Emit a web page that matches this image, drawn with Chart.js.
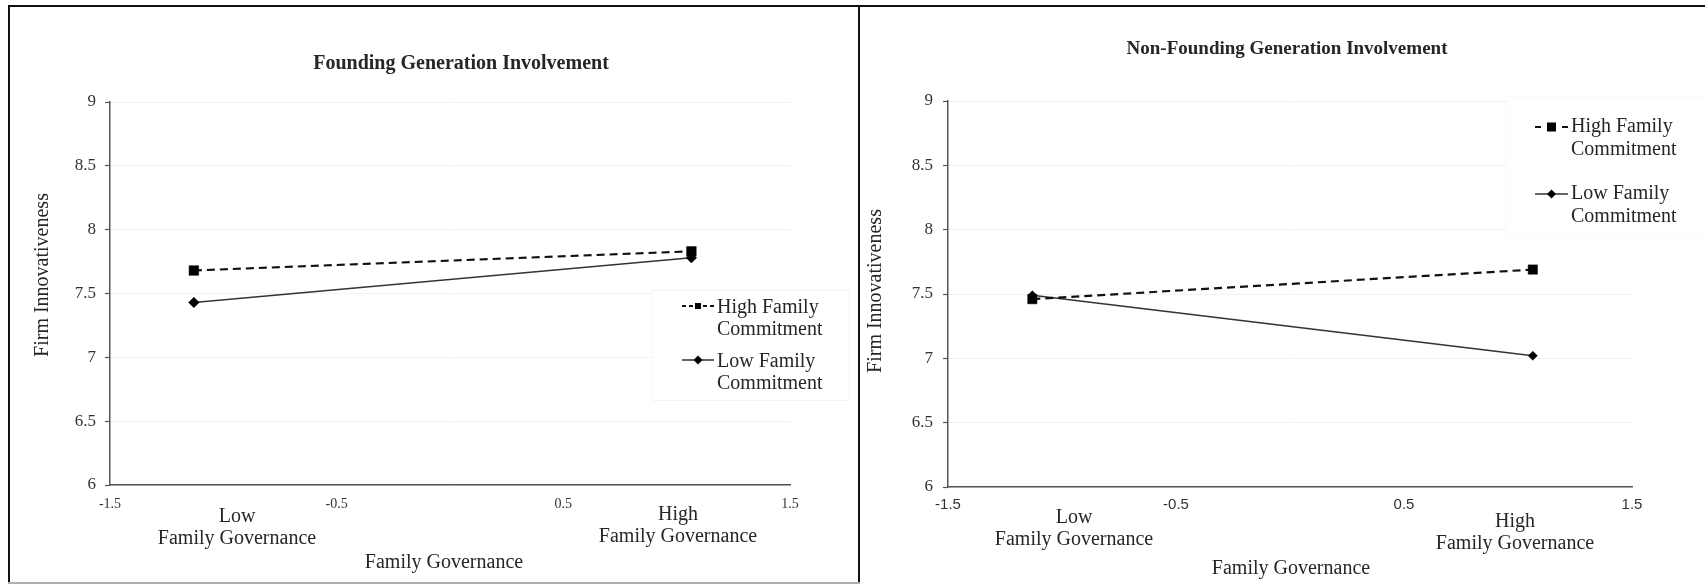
<!DOCTYPE html>
<html>
<head>
<meta charset="utf-8">
<title>Family Governance and Firm Innovativeness</title>
<script src="https://cdn.jsdelivr.net/npm/chart.js@4.4.1/dist/chart.umd.min.js"></script>
<style>
  html, body { margin: 0; padding: 0; background: #fff; }
  #stage { position: relative; width: 1705px; height: 584px; overflow: hidden; }
  #stage canvas { position: absolute; left: 0; top: 0; }
  .rule { position: absolute; }
</style>
</head>
<body>
<div id="stage">
  <div class="rule" style="left:8px;top:5px;width:1697px;height:2px;background:#111"></div>
  <div class="rule" style="left:8px;top:5px;width:2px;height:579px;background:#111"></div>
  <div class="rule" style="left:858px;top:5px;width:2px;height:579px;background:#111"></div>
  <div class="rule" style="left:8px;top:582px;width:852px;height:2px;background:#b0b0b0"></div>
  <canvas id="founding" width="1705" height="584"></canvas>
  <canvas id="nonFounding" width="1705" height="584"></canvas>
</div>
<script>
const SERIF = "'Liberation Serif', 'Times New Roman', serif";
const SANS = "'Liberation Sans', Arial, sans-serif";

// Shared axes
const governanceX = [-1.13, 1.065];          // low / high family governance
const xTickValues = [-1.5, -0.5, 0.5, 1.5];
const yMin = 6;
const yMax = 9;
const yStep = 0.5;

// Labels
const seriesNames = [['High Family', 'Commitment'], ['Low Family', 'Commitment']];
const categoryLines = [['Low', 'Family Governance'], ['High', 'Family Governance']];
const axisTitleX = 'Family Governance';
const axisTitleY = 'Firm Innovativeness';

// Simple slopes: firm innovativeness
const foundingHighCommitment = [7.68, 7.83];
const foundingLowCommitment = [7.43, 7.78];
const nonFoundingHighCommitment = [7.46, 7.69];
const nonFoundingLowCommitment = [7.49, 7.02];

const TEXT = '#262626';
const AXIS = '#555';

function drawMarker(ctx, style, x, y, size) {
  ctx.beginPath();
  if (style === 'rect') {
    ctx.rect(x - size / 2, y - size / 2, size, size);
  } else {
    ctx.moveTo(x - size, y);
    ctx.lineTo(x, y - size);
    ctx.lineTo(x + size, y);
    ctx.lineTo(x, y + size);
    ctx.closePath();
  }
  ctx.fill();
}

function panelPlugin(spec) {
  return {
    id: 'panelText',
    beforeDatasetsDraw(chart) {
      const b = spec.legend.box;
      const ctx = chart.ctx;
      ctx.save();
      ctx.fillStyle = '#fff';
      ctx.fillRect(b.x, b.y, b.w, b.h);
      ctx.strokeStyle = b.stroke;
      ctx.lineWidth = 1;
      ctx.strokeRect(b.x + 0.5, b.y + 0.5, b.w, b.h);
      ctx.restore();
    },
    afterDraw(chart) {
      const ctx = chart.ctx;
      ctx.save();
      ctx.fillStyle = TEXT;
      ctx.textAlign = 'center';
      ctx.textBaseline = 'middle';

      // panel title
      ctx.font = 'bold ' + spec.titleSize + 'px ' + SERIF;
      ctx.fillText(spec.title, spec.titleAt[0], spec.titleAt[1]);

      // axis titles
      ctx.font = '20px ' + SERIF;
      ctx.fillText(axisTitleX, spec.xTitleAt[0], spec.xTitleAt[1]);
      ctx.save();
      ctx.translate(spec.yTitleAt[0], spec.yTitleAt[1]);
      ctx.rotate(-Math.PI / 2);
      ctx.fillText(axisTitleY, 0, 0);
      ctx.restore();

      // category captions under the axis
      categoryLines.forEach((lines, i) => {
        const [cx, cy] = spec.catAt[i];
        lines.forEach((line, j) => ctx.fillText(line, cx, cy + j * 22));
      });

      // legend
      const lg = spec.legend;
      chart.data.datasets.forEach((ds, i) => {
        const ry = lg.rows[i];
        const sy = ry + lg.sampleOffset;
        ctx.save();
        ctx.strokeStyle = ds.borderColor;
        ctx.lineWidth = i === 0 ? 2 : 1.5;
        ctx.setLineDash(i === 0 ? lg.dash : []);
        ctx.beginPath();
        ctx.moveTo(lg.sampleX[0], sy);
        ctx.lineTo(lg.sampleX[1], sy);
        ctx.stroke();
        ctx.fillStyle = '#000';
        const mx = (lg.sampleX[0] + lg.sampleX[1]) / 2;
        drawMarker(ctx, ds.pointStyle, mx, sy, ds.pointStyle === 'rect' ? lg.squareSide : lg.diamondR);
        ctx.restore();

        ctx.textAlign = 'left';
        ctx.font = '20px ' + SERIF;
        seriesNames[i].forEach((line, j) => ctx.fillText(line, lg.textX, ry + j * lg.lineGap));
      });
      ctx.restore();
    }
  };
}

function makeChart(canvasId, spec) {
  const points = vals => governanceX.map((x, i) => ({ x: x, y: vals[i] }));
  return new Chart(document.getElementById(canvasId), {
    type: 'line',
    data: {
      datasets: [
        {
          label: seriesNames[0].join(' '),
          data: points(spec.high),
          borderColor: '#111',
          borderWidth: 2.2,
          borderDash: [8, 5],
          pointStyle: 'rect',
          pointRadius: spec.squareR,
          pointBackgroundColor: '#000',
          pointBorderColor: '#000',
          pointBorderWidth: 0.5,
          fill: false,
          tension: 0
        },
        {
          label: seriesNames[1].join(' '),
          data: points(spec.low),
          borderColor: '#333',
          borderWidth: 1.6,
          pointStyle: 'rectRot',
          pointRadius: spec.diamondR,
          pointBackgroundColor: '#000',
          pointBorderColor: '#000',
          pointBorderWidth: 0.5,
          fill: false,
          tension: 0
        }
      ]
    },
    options: {
      responsive: false,
      devicePixelRatio: 1,
      animation: false,
      events: [],
      layout: { padding: spec.padding },
      plugins: { legend: { display: false }, tooltip: { enabled: false }, title: { display: false } },
      scales: {
        x: {
          type: 'linear',
          min: xTickValues[0],
          max: xTickValues[xTickValues.length - 1],
          afterBuildTicks: s => { s.ticks = xTickValues.map(v => ({ value: v })); },
          afterFit: s => { s.height = spec.xHeight; },
          grid: { display: false, drawTicks: false, tickLength: 0 },
          border: { display: true, color: AXIS, width: 1.5 },
          ticks: {
            color: '#333',
            font: spec.xTickFont,
            padding: spec.xTickPad,
            maxRotation: 0,
            autoSkip: false,
            callback: v => String(v)
          }
        },
        y: {
          type: 'linear',
          min: yMin,
          max: yMax,
          afterFit: s => { s.width = spec.yWidth; },
          grid: { display: true, color: '#f1f1f1', lineWidth: 1, drawTicks: true, tickLength: 5, tickColor: AXIS, tickWidth: 1.2 },
          border: { display: true, color: AXIS, width: 1.5 },
          ticks: {
            stepSize: yStep,
            color: '#333',
            font: { family: SERIF, size: 17 },
            padding: spec.yTickPad,
            callback: v => String(v)
          }
        }
      }
    },
    plugins: [panelPlugin(spec)]
  });
}

makeChart('founding', {
  title: 'Founding Generation Involvement',
  titleSize: 20,
  titleAt: [461, 64],
  padding: { left: 0, top: 102, right: 915, bottom: 0 },
  yWidth: 110,
  xHeight: 99,
  yTitleAt: [43, 275],
  xTitleAt: [444, 563],
  catAt: [[237, 517], [678, 515]],
  xTickFont: { family: SERIF, size: 14 },
  xTickPad: 11,
  yTickPad: 9,
  high: foundingHighCommitment,
  low: foundingLowCommitment,
  squareR: 6.8,
  diamondR: 5.3,
  legend: {
    sampleX: [682, 714], textX: 717, rows: [308, 362], lineGap: 22, sampleOffset: -2,
    dash: [4, 3], squareSide: 6, diamondR: 4.5,
    box: { x: 652, y: 290, w: 197, h: 110, stroke: '#f5f5f5' }
  }
});

makeChart('nonFounding', {
  title: 'Non-Founding Generation Involvement',
  titleSize: 19,
  titleAt: [1287, 49],
  padding: { left: 861, top: 101, right: 73, bottom: 0 },
  yWidth: 87,
  xHeight: 97,
  yTitleAt: [876, 291],
  xTitleAt: [1291, 569],
  catAt: [[1074, 518], [1515, 522]],
  xTickFont: { family: SANS, size: 15 },
  xTickPad: 9,
  yTickPad: 10,
  high: nonFoundingHighCommitment,
  low: nonFoundingLowCommitment,
  squareR: 6.6,
  diamondR: 4.6,
  legend: {
    sampleX: [1535, 1568], textX: 1571, rows: [127, 194], lineGap: 23, sampleOffset: 0,
    dash: [6, 21], squareSide: 9, diamondR: 4.5,
    box: { x: 1506, y: 96, w: 199, h: 140, stroke: '#fafafa' }
  }
});
</script>
</body>
</html>
